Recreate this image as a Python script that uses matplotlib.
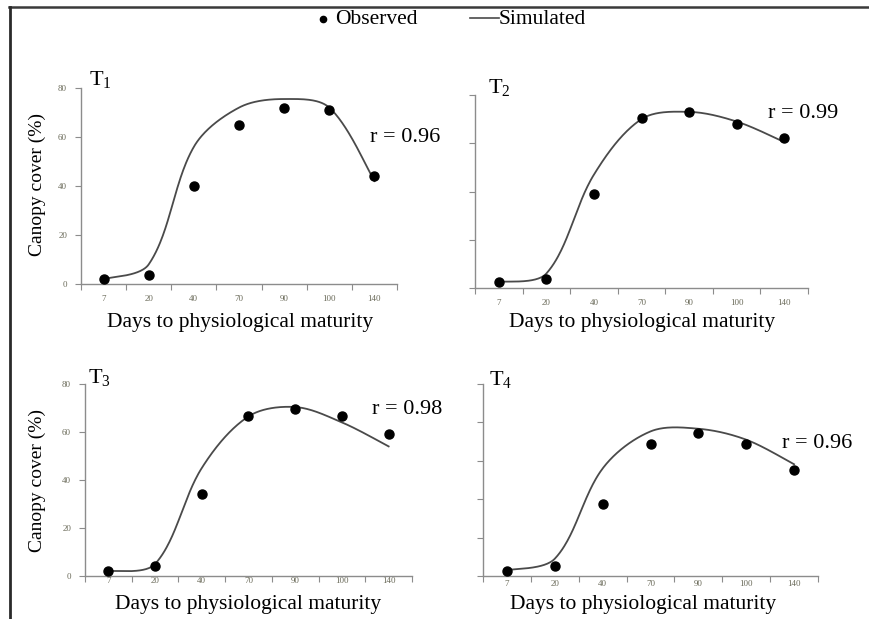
import numpy as np
import matplotlib
matplotlib.use("Agg")
import matplotlib.pyplot as plt
from matplotlib.lines import Line2D

plt.rcParams['font.family'] = ['Liberation Serif', 'DejaVu Serif']
plt.rcParams['mathtext.fontset'] = 'custom'
plt.rcParams['mathtext.rm'] = 'Liberation Serif'
plt.rcParams['mathtext.it'] = 'Liberation Serif:italic'

days = ['7', '20', '40', '70', '90', '100', '140']

obs_t1 = [2, 3.7, 40, 65, 72, 71, 44]
sim_t1 = [2, 8, 56, 72, 75.5, 72, 42]
obs_t2 = [2.5, 3.6, 39, 70.5, 72.8, 68, 62]
sim_t2 = [2.5, 6, 47, 70, 73, 69, 60.5]
obs_t3 = [2, 4.3, 34, 66.6, 69.4, 66.6, 59]
sim_t3 = [2, 5, 45, 66.5, 70.4, 64, 54]
obs_t4 = [2.6, 5.2, 37.5, 68.8, 74.7, 68.8, 55]
sim_t4 = [3, 9, 56, 75.3, 76.7, 71, 58.2]

r_values = ['0.96', '0.99', '0.98', '0.96']
panel_names = ['1', '2', '3', '4']

W, H = 870, 619
fig = plt.figure(figsize=(W / 100, H / 100), dpi=100)


def smooth(xs, ys, xscale, yscale, n=50):
    # Bezier smoothing with control points scaled by screen-space segment lengths
    P = np.column_stack([np.asarray(xs, float) * xscale, np.asarray(ys, float) * yscale])
    m = len(P)
    out = []
    for i in range(m - 1):
        p0 = P[i - 1] if i > 0 else P[i]
        p1 = P[i]
        p2 = P[i + 1]
        p3 = P[i + 2] if i + 2 < m else P[i + 1]
        d01 = np.linalg.norm(p1 - p0)
        d12 = np.linalg.norm(p2 - p1)
        d23 = np.linalg.norm(p3 - p2)
        f1 = d12 / (d01 + d12) if d01 > 0 else 0.5
        f2 = d12 / (d12 + d23) if d23 > 0 else 0.5
        c1 = p1 + (p2 - p0) * f1 / 3.0
        c2 = p2 - (p3 - p1) * f2 / 3.0
        t = np.linspace(0, 1, n)[:, None]
        seg = ((1 - t) ** 3) * p1 + 3 * ((1 - t) ** 2) * t * c1 + 3 * (1 - t) * t ** 2 * c2 + t ** 3 * p2
        out.append(seg if i == 0 else seg[1:])
    out = np.vstack(out)
    return out[:, 0] / xscale, out[:, 1] / yscale


def px_axes(left, right, top, bottom):
    return fig.add_axes([left / W, 1 - bottom / H, (right - left) / W, (bottom - top) / H])


panels = [
    dict(box=(81, 397, 88, 284), obs=obs_t1, sim=sim_t1, ymax=80, ylabels=True,
         tpos=(89, 80), rpos=(370, 137), xlab=(240, 323), xpad=8),
    dict(box=(475, 808, 95, 288), obs=obs_t2, sim=sim_t2, ymax=80, ylabels=False,
         tpos=(488, 88), rpos=(768, 113), xlab=(642, 323), xpad=8),
    dict(box=(85, 412, 384, 576), obs=obs_t3, sim=sim_t3, ymax=80, ylabels=True,
         tpos=(88, 378), rpos=(372, 410), xlab=(248, 605), xpad=1),
    dict(box=(483, 818, 384, 576), obs=obs_t4, sim=sim_t4, ymax=100, ylabels=False,
         tpos=(489, 380), rpos=(782, 444), xlab=(643, 605), xpad=3),
]

axis_col = '#8c8c8c'
tick_col = '#6b6b5a'

for k, p in enumerate(panels):
    left, right, top, bottom = p['box']
    ax = px_axes(left, right, top, bottom)
    x = np.arange(len(days))
    xscale = (right - left) / len(days)
    yscale = (bottom - top) / p['ymax']
    sx, sy = smooth(x, p['sim'], xscale, yscale)
    ax.plot(sx, sy, color='#4a4a4a', lw=1.3, zorder=2)
    ax.plot(x, p['obs'], 'o', color='black', ms=6.5, zorder=3)
    ax.set_xlim(-0.5, len(days) - 0.5)
    ax.set_ylim(0, p['ymax'])
    for s in ['top', 'right']:
        ax.spines[s].set_visible(False)
    for s in ['left', 'bottom']:
        ax.spines[s].set_color(axis_col)
        ax.spines[s].set_linewidth(1.0)
    ax.set_xticks(np.arange(-0.5, len(days), 1.0))
    ax.set_xticklabels([])
    ax.set_xticks(x, minor=True)
    ax.set_xticklabels(days, minor=True, fontsize=6.5, color=tick_col)
    ax.tick_params(axis='x', which='major', length=4, color=axis_col, direction='out')
    ax.tick_params(axis='x', which='minor', length=0, pad=p['xpad'])
    ax.set_yticks(np.arange(0, p['ymax'] + 1, 20))
    if p['ylabels']:
        ax.set_yticklabels([str(v) for v in range(0, p['ymax'] + 1, 20)], fontsize=6.5, color=tick_col)
    else:
        ax.set_yticklabels([])
    ax.tick_params(axis='y', length=4, color=axis_col, direction='out', pad=6)
    ax.patch.set_alpha(0)

    fig.text(p['tpos'][0] / W, 1 - p['tpos'][1] / H, r'$\mathregular{T_{%s}}$' % panel_names[k],
             fontsize=16, ha='left', va='center')
    fig.text(p['rpos'][0] / W, 1 - p['rpos'][1] / H, 'r = ' + r_values[k],
             fontsize=16, ha='left', va='center')
    fig.text(p['xlab'][0] / W, 1 - p['xlab'][1] / H, 'Days to physiological maturity',
             fontsize=15.5, ha='center', va='center')

fig.text(37 / W, 1 - 185 / H, 'Canopy cover (%)', rotation=90, fontsize=14,
         ha='center', va='center')
fig.text(37 / W, 1 - 480 / H, 'Canopy cover (%)', rotation=90, fontsize=14,
         ha='center', va='center')

# legend
fig.add_artist(Line2D([323 / W], [1 - 19 / H], marker='o', color='black', ms=4.5, ls='none'))
fig.text(335 / W, 1 - 20 / H, 'Observed', fontsize=15.5, ha='left', va='center')
fig.add_artist(Line2D([470 / W, 499 / W], [1 - 18 / H, 1 - 18 / H], color='#4a4a4a', lw=1.2))
fig.text(499 / W, 1 - 20 / H, 'Simulated', fontsize=15.5, ha='left', va='center')

# frame lines
fig.add_artist(Line2D([9 / W, 1.0], [1 - 7 / H, 1 - 7 / H], color='#3a3a3a', lw=1.8))
fig.add_artist(Line2D([10 / W, 10 / W], [0, 1 - 7 / H], color='#2a2a2a', lw=2.0))

fig.savefig('out.png', dpi=100)
